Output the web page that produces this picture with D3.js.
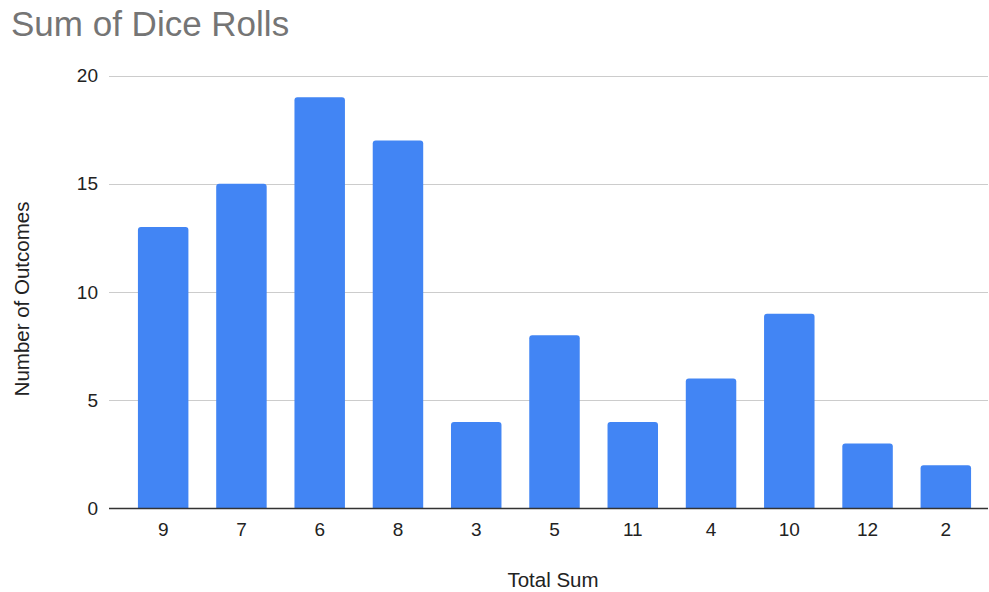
<!DOCTYPE html>
<html><head><meta charset="utf-8">
<script src="https://cdn.jsdelivr.net/npm/d3@7"></script>
<style>body{margin:0;background:#fff}</style>
</head><body>
<script>
const categories = ["9","7","6","8","3","5","11","4","10","12","2"];
const values = [13,15,19,17,4,8,4,6,9,3,2];
const yTicks = [0,5,10,15,20];
const title = "Sum of Dice Rolls";
const xTitle = "Total Sum";
const yTitle = "Number of Outcomes";

const W = 989, H = 592;
const svg = d3.select("body").append("svg").attr("width", W).attr("height", H)
  .style("font-family", "Arial, 'Liberation Sans', sans-serif");

const x = d3.scaleBand().domain(categories).range([124, 985]).paddingInner(0.355).paddingOuter(0.178);
const y = d3.scaleLinear().domain([0, 20]).range([508.5, 75.5]);

svg.append("text").attr("x", 11).attr("y", 36).attr("font-size", 35).attr("fill", "#757575").text(title);

// gridlines
svg.append("g").selectAll("line").data(yTicks.filter(d => d > 0)).join("line")
  .attr("x1", 109).attr("x2", 988).attr("y1", d => Math.round(y(d)) + 0.5).attr("y2", d => Math.round(y(d)) + 0.5)
  .attr("stroke", "#cccccc").attr("stroke-width", 1);

// y labels
svg.append("g").selectAll("text").data(yTicks).join("text")
  .attr("x", 98).attr("y", d => y(d)).attr("dy", "0.35em").attr("text-anchor", "end")
  .attr("font-size", 19).attr("fill", "#222").text(d => d);

// bars with rounded top
const r = 3;
svg.append("g").selectAll("path").data(categories.map((c, i) => ({c, v: values[i]}))).join("path")
  .attr("fill", "#4285f4")
  .attr("d", d => {
    const x0 = x(d.c), w = x.bandwidth(), yt = y(d.v), yb = y(0);
    return `M${x0},${yb}V${yt + r}Q${x0},${yt} ${x0 + r},${yt}H${x0 + w - r}Q${x0 + w},${yt} ${x0 + w},${yt + r}V${yb}Z`;
  });

// baseline
svg.append("line").attr("x1", 109).attr("x2", 988).attr("y1", y(0)).attr("y2", y(0))
  .attr("stroke", "#333").attr("stroke-width", 1.3);

// x labels
svg.append("g").selectAll("text").data(categories).join("text")
  .attr("x", d => x(d) + x.bandwidth() / 2).attr("y", 536).attr("text-anchor", "middle")
  .attr("font-size", 19).attr("fill", "#222").text(d => d);

svg.append("text").attr("x", 553).attr("y", 587).attr("text-anchor", "middle")
  .attr("font-size", 20.5).attr("fill", "#222").text(xTitle);

svg.append("text").attr("transform", "translate(29,299) rotate(-90)").attr("text-anchor", "middle")
  .attr("font-size", 20.5).attr("fill", "#222").text(yTitle);
</script>
</body></html>
